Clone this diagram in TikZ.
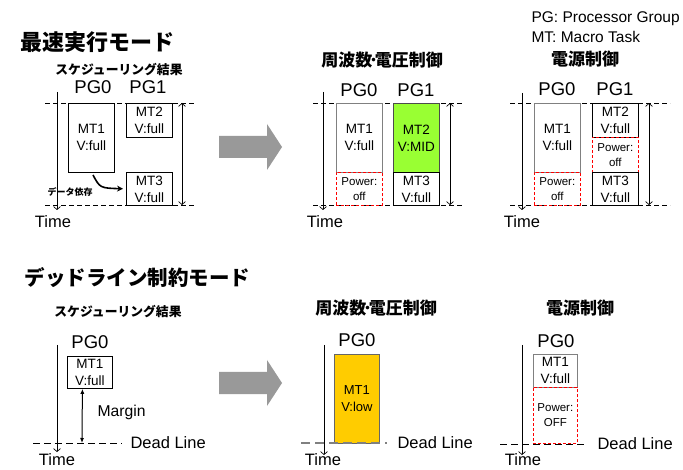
\documentclass[tikz,border=0pt]{standalone}
\usepackage{fontspec}
\setmainfont{Liberation Sans}
\newfontfamily\jp{Noto Sans CJK JP}
\usetikzlibrary{arrows.meta}

\definecolor{midgreen}{RGB}{153,255,51}
\definecolor{lowyellow}{RGB}{255,204,0}

\tikzset{
  mtbox/.style={draw, line width=0.8pt, minimum width=46pt, anchor=north west,
    align=center, inner sep=0pt, font=\fontsize{13.5}{17}\selectfont},
  offbox/.style={mtbox, draw=red, dash pattern=on 3pt off 2pt, line width=0.7pt,
    font=\fontsize{11.5}{15}\selectfont},
  pglabel/.style={font=\fontsize{18.5}{20}\selectfont},
  timelabel/.style={font=\fontsize{16.5}{18}\selectfont},
  bigtitle/.style={anchor=west, font=\jp\bfseries\fontsize{22}{24}\selectfont},
  subtitle/.style={font=\jp\bfseries\fontsize{17}{19}\selectfont},
  schedtitle/.style={font=\jp\bfseries\fontsize{12.8}{14}\selectfont},
  slot/.style={dash pattern=on 5pt off 3pt, line width=0.7pt},
  timeaxis/.style={line width=0.7pt, -{Straight Barb[length=3pt,width=7pt]}},
  span/.style={line width=0.7pt, {Straight Barb[length=3pt,width=7pt]}-{Straight Barb[length=3pt,width=7pt]}},
  bigarrow/.style={fill=gray!80, draw=none}
}

\begin{document}
\begin{tikzpicture}[x=1pt,y=-1pt]
  \fill[white] (0,0) rectangle (683,470);
  \useasboundingbox (0,0) rectangle (683,470);

 % Legend
  \node[anchor=west, font=\fontsize{15.5}{17}\selectfont] (leg1) at (528,19) {PG: Processor Group};
  \node[anchor=west, font=\fontsize{15.5}{17}\selectfont] (leg2) at (528,37) {MT: Macro Task};

 % Fastest execution mode
  \node[bigtitle] (fasttitle) at (17,42) {最速実行モード};

 % --- schedule result
  \node[schedtitle] (fs-title) at (119,70) {スケジューリング結果};
  \node[pglabel] (fs-pg0) at (93,87) {PG0};
  \node[pglabel] (fs-pg1) at (148,87) {PG1};
  \draw[slot] (45,103) -- (195,103);
  \draw[slot] (45,205) -- (195,205);
  \node[mtbox, minimum height=69pt] (fs-mt1) at (68,103) {MT1\\V:full};
  \node[mtbox, minimum height=34pt] (fs-mt2) at (126,103) {MT2\\V:full};
  \node[mtbox, minimum height=33pt] (fs-mt3) at (126,172) {MT3\\V:full};
  \draw[timeaxis] (57,92) -- (57,210);
  \node[timelabel] (fs-time) at (53,222) {Time};
  \draw[span] (182,103) -- (182,205);
  \coordinate (fs-dep) at (93,175);
  \draw[line width=1.6pt, -{Stealth[length=6pt,width=6pt]}, shorten >=3pt]
    (fs-dep) .. controls (100,188) .. (fs-mt3.west);
  \node[font=\jp\bfseries\fontsize{9}{10}\selectfont] (fs-deplabel) at (70,192) {データ依存};

  \fill[bigarrow] (219,136) -- (267,136) -- (267,124) -- (282,147) -- (267,170) -- (267,158) -- (219,158) -- cycle;

 % --- frequency / voltage control
  \node[subtitle] (fd-title) at (382,60) {周波数\kern-3pt･\kern-3pt 電圧制御};
  \node[pglabel] (fd-pg0) at (359,90) {PG0};
  \node[pglabel] (fd-pg1) at (416,90) {PG1};
  \draw[slot] (313,103) -- (462,103);
  \draw[slot] (313,205) -- (462,205);
  \node[mtbox, draw=gray, minimum height=69pt] (fd-mt1) at (336,103) {MT1\\V:full};
  \node[offbox, minimum height=33pt] (fd-off) at (336,172) {Power:\\off};
  \node[mtbox, fill=midgreen, draw=black!70, minimum height=69pt] (fd-mt2) at (393,103) {MT2\\V:MID};
  \node[mtbox, minimum height=33pt] (fd-mt3) at (393,172) {MT3\\V:full};
  \draw[timeaxis] (323,92) -- (323,210);
  \node[timelabel] (fd-time) at (325,222) {Time};
  \draw[span] (450,103) -- (450,205);

 % --- power control
  \node[subtitle] (fp-title) at (585,59) {電源制御};
  \node[pglabel] (fp-pg0) at (557,89) {PG0};
  \node[pglabel] (fp-pg1) at (615,89) {PG1};
  \draw[slot] (510,103) -- (670,103);
  \draw[slot] (510,205) -- (670,205);
  \node[mtbox, draw=gray, minimum height=69pt] (fp-mt1) at (534,103) {MT1\\V:full};
  \node[offbox, minimum height=33pt] (fp-off1) at (534,172) {Power:\\off};
  \node[mtbox, minimum height=34pt] (fp-mt2) at (592,103) {MT2\\V:full};
  \node[offbox, minimum height=35pt] (fp-off2) at (592,137) {Power:\\off};
  \node[mtbox, minimum height=33pt] (fp-mt3) at (592,172) {MT3\\V:full};
  \draw[timeaxis] (522,93) -- (522,210);
  \node[timelabel] (fp-time) at (522,222) {Time};
  \draw[span] (649,103) -- (649,205);

 % Deadline mode
  \node[bigtitle, font=\jp\bfseries\fontsize{20.5}{22}\selectfont] (deadtitle) at (21,278) {デッドライン制約モード};

 % --- schedule result
  \node[schedtitle] (ls-title) at (118,312) {スケジューリング結果};
  \node[pglabel] (ls-pg0) at (90,342) {PG0};
  \node[mtbox, minimum width=45pt, minimum height=32pt] (ls-mt1) at (67,356) {MT1\\V:full};
  \draw[timeaxis] (57,345) -- (57,452);
  \node[timelabel] (ls-time) at (57,460) {Time};
  \draw[dash pattern=on 7pt off 4pt, line width=0.7pt] (33,443) -- (122,443);
  \node[timelabel, anchor=west] (ls-dead) at (127,443) {Dead Line};
  \coordinate (ls-dl) at (82,443);
  \draw[line width=1pt, {Latex[length=5pt,width=4pt]}-{Latex[length=5pt,width=4pt]}]
    ([xshift=-7.5pt]ls-mt1.south) -- (ls-dl);
  \node[anchor=west, font=\fontsize{15.7}{17}\selectfont] (ls-margin) at (94,412) {Margin};

  \fill[bigarrow] (219,372) -- (267,372) -- (267,360) -- (282,383) -- (267,406) -- (267,394) -- (219,394) -- cycle;

 % --- frequency / voltage control
  \node[subtitle] (ld-title) at (376,308) {周波数\kern-3pt･\kern-3pt 電圧制御};
  \node[pglabel] (ld-pg0) at (357,340) {PG0};
  \node[mtbox, fill=lowyellow, draw=black!60, minimum width=45pt, minimum height=89pt,
    font=\fontsize{13}{17}\selectfont] (ld-mt1) at (334,354) {MT1\\V:low};
  \draw[gray, dash pattern=on 9pt off 5pt, line width=1.3pt] (301,443) -- (387,443);
  \draw[timeaxis] (324,345) -- (324,455);
  \node[timelabel] (ld-time) at (323,460) {Time};
  \node[timelabel, anchor=west] (ld-dead) at (394,443) {Dead Line};

 % --- power control
  \node[subtitle] (lp-title) at (580,308) {電源制御};
  \node[pglabel] (lp-pg0) at (556,341) {PG0};
  \node[mtbox, draw=gray, minimum width=44pt, minimum height=33pt] (lp-mt1) at (533,354) {MT1\\V:full};
  \node[offbox, minimum width=44pt, minimum height=56pt] (lp-off) at (533,387) {Power:\\OFF};
  \draw[dash pattern=on 7pt off 4pt, line width=0.7pt] (500,444) -- (585,444);
  \draw[timeaxis] (522,345) -- (522,455);
  \node[timelabel] (lp-time) at (523,460) {Time};
  \node[timelabel, anchor=west] (lp-dead) at (594,444) {Dead Line};

\end{tikzpicture}
\end{document}
